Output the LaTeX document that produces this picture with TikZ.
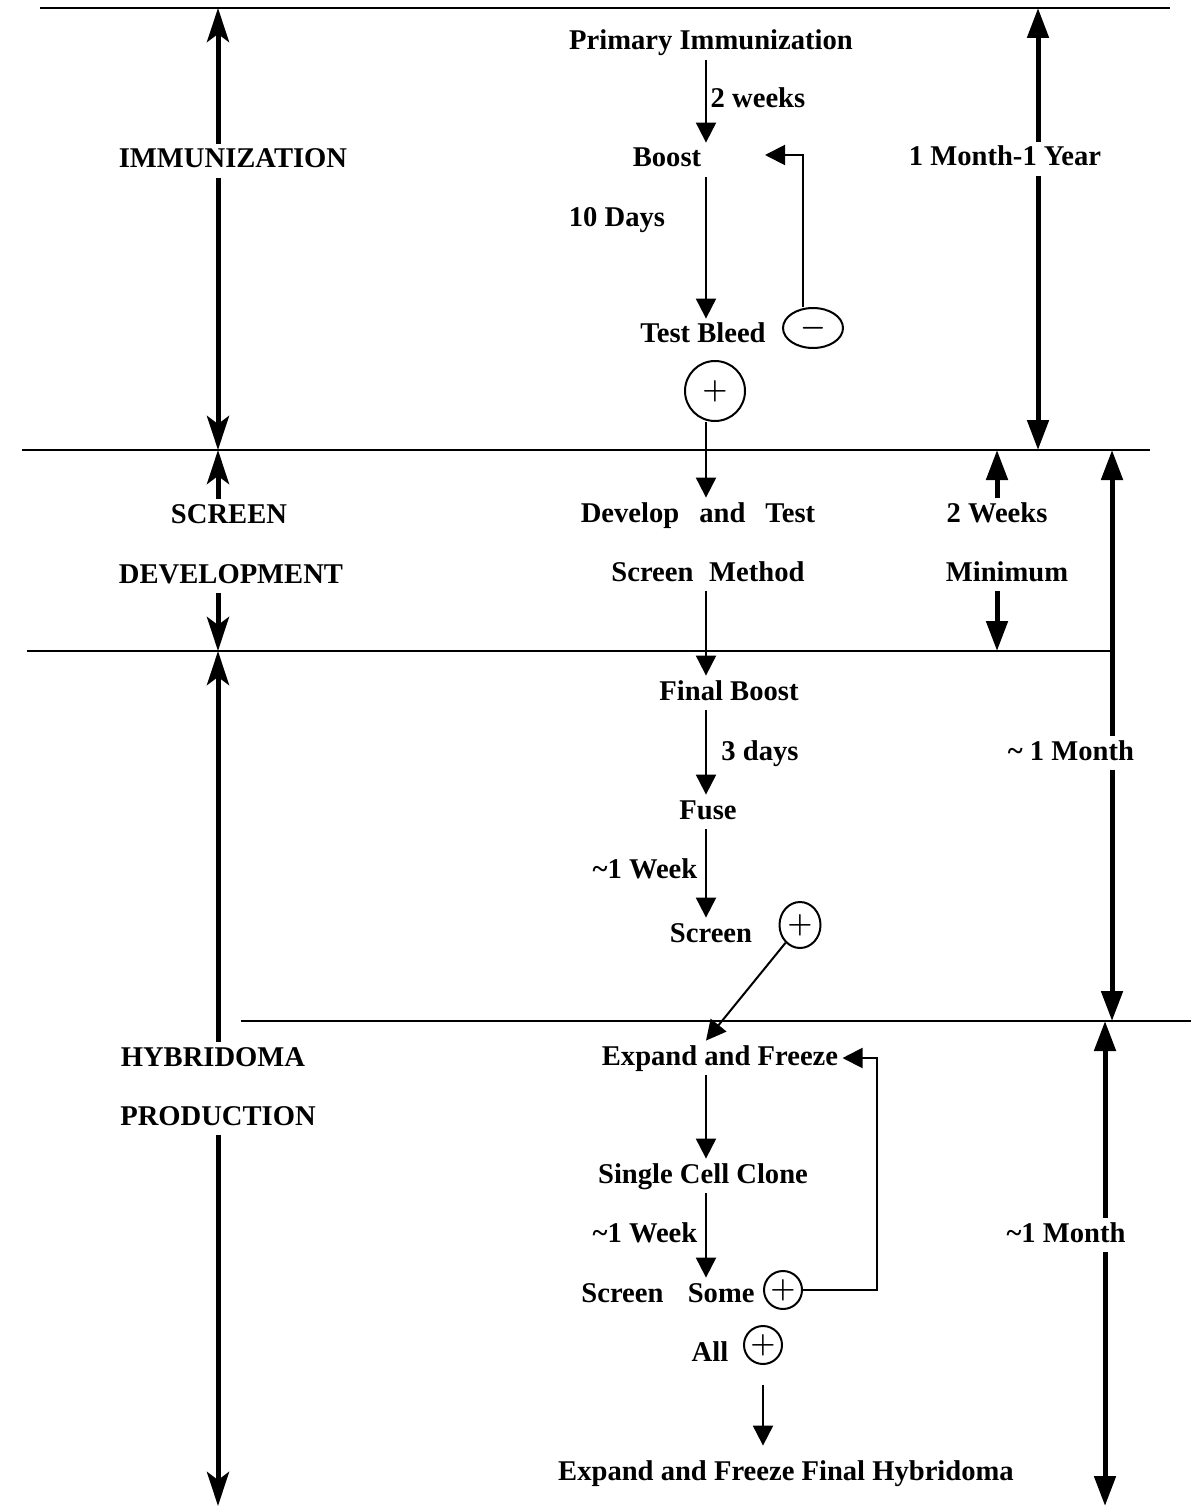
\documentclass[tikz,border=0pt]{standalone}
\usepackage{fontspec}
\setmainfont{Liberation Serif}
\usetikzlibrary{arrows.meta,shapes.geometric}

\begin{document}
\begin{tikzpicture}[x=0.5pt,y=-0.5pt,
  lbl/.style={font=\fontsize{14.3}{17}\selectfont\bfseries, text height=10pt, text depth=3pt, inner sep=2pt, yshift=-1.5pt},
  sign/.style={draw, line width=1pt, inner sep=0pt, font=\fontsize{15}{17}\selectfont\boldmath},
  flow/.style={-{Triangle[length=10pt,width=10pt]}, line width=1pt},
  divider/.style={line width=1.2pt},
  lbar/.style={-{Stealth[length=17pt,width=11pt,inset=4pt]}, line width=2.5pt},
  rbar/.style={-{Triangle[length=15pt,width=10.5pt]}, line width=2.5pt}]
  \useasboundingbox (0,0) rectangle (1191,1508);
  % dividers between the three stages
  \coordinate (d1w) at (40,8);    \coordinate (d1e) at (1170,8);
  \coordinate (d2w) at (22,450);  \coordinate (d2e) at (1150,450);
  \coordinate (d3w) at (27,651);  \coordinate (d3e) at (1112,651);
  \coordinate (d4w) at (241,1021);\coordinate (d4e) at (1191,1021);
  \draw[divider] (d1w) -- (d1e);
  \draw[divider] (d2w) -- (d2e);
  \draw[divider] (d3w) -- (d3e);
  \draw[divider] (d4w) -- (d4e);
  % ends of the time bars
  \coordinate (l1) at (218,8);    \coordinate (l2) at (218,450);
  \coordinate (l3) at (218,651);  \coordinate (l4) at (218,1506);
  \coordinate (ra1) at (1038,8);  \coordinate (ra2) at (1038,450);
  \coordinate (rb1) at (997,450); \coordinate (rb2) at (997,651);
  \coordinate (rc1) at (1112,450);\coordinate (rc2) at (1112,1021);
  \coordinate (rd1) at (1105,1021);\coordinate (rd2) at (1105,1506);
  % stage names
  \node[lbl] (imm)  at (233,158)  {IMMUNIZATION};
  \node[lbl] (scr1) at (229,513)  {SCREEN};
  \node[lbl] (scr2) at (231,573)  {DEVELOPMENT};
  \node[lbl] (hyb)  at (213,1056) {HYBRIDOMA};
  \node[lbl] (prod) at (218,1115) {PRODUCTION};
  % durations
  \node[lbl] (yr)   at (1005,156) {1 Month-1 Year};
  \node[lbl] (wks)  at (997,512)  {2 Weeks};
  \node[lbl] (mini) at (1007,571) {Minimum};
  \node[lbl] (mon1) at (1071,750) {\textasciitilde{} 1 Month};
  \node[lbl] (mon2) at (1066,1232){\textasciitilde1 Month};
  % steps
  \node[lbl] (prim)   at (711,40)   {Primary Immunization};
  \node[lbl] (wk2)    at (758,98)   {2 weeks};
  \node[lbl] (boost)  at (667,157)  {Boost};
  \node[lbl] (d10)    at (617,217)  {10 Days};
  \node[lbl] (bleed)  at (703,333)  {Test Bleed};
  \node[sign, ellipse, minimum width=30pt, minimum height=20pt] (minus) at (813,328) {$-$};
  \node[sign, circle, minimum size=30pt] (tplus) at (715,391) {$+$};
  \node[lbl] (dev)    at (698,512)  {Develop\hspace{0.45em} and\hspace{0.45em} Test};
  \node[lbl] (meth)   at (708,571)  {Screen\hspace{0.3em} Method};
  \node[lbl] (fboost) at (729,690)  {Final Boost};
  \node[lbl] (d3)     at (760,750)  {3 days};
  \node[lbl] (fuse)   at (708,809)  {Fuse};
  \node[lbl] (wk1a)   at (645,868)  {\textasciitilde1 Week};
  \node[lbl] (scr)    at (711,932)  {Screen};
  \node[sign, ellipse, minimum width=20.5pt, minimum height=23pt] (splus) at (800,925) {$+$};
  \node[lbl] (expand) at (720,1055) {Expand and Freeze};
  \node[lbl] (single) at (703,1173) {Single Cell Clone};
  \node[lbl] (wk1b)   at (645,1232) {\textasciitilde1 Week};
  \node[lbl] (some)   at (668,1292) {Screen\hspace{0.6em} Some};
  \node[sign, circle, minimum size=19pt] (ssplus) at (783,1290) {$+$};
  \node[lbl] (all)    at (710,1351) {All};
  \node[sign, circle, minimum size=19pt] (aplus) at (763,1345) {$+$};
  \node[lbl] (final)  at (786,1470) {Expand and Freeze Final Hybridoma};
  % time bars
  \draw[lbar] (l1 |- imm.north) -- (l1);
  \draw[lbar] (l1 |- imm.south) -- (l2);
  \draw[lbar] (l2 |- scr1.north) -- (l2);
  \draw[lbar] (l2 |- scr2.south) -- (l3);
  \draw[lbar] (l3 |- hyb.north) -- (l3);
  \draw[lbar] (l3 |- prod.south) -- (l4);
  \draw[rbar] (ra1 |- yr.north) -- (ra1);
  \draw[rbar] (ra1 |- yr.south) -- (ra2);
  \draw[rbar] (rb1 |- wks.north) -- (rb1);
  \draw[rbar] (rb1 |- mini.south) -- (rb2);
  \draw[rbar] (rc1 |- mon1.north) -- (rc1);
  \draw[rbar] (rc1 |- mon1.south) -- (rc2);
  \draw[rbar] (rd1 |- mon2.north) -- (rd1);
  \draw[rbar] (rd1 |- mon2.south) -- (rd2);
  % flow of the steps
  \coordinate (colx) at (706,0);
  \coordinate (boostin) at (765,155);
  \coordinate (loopx) at (877,0);
  \draw[flow] (prim.south -| colx) -- (boost.north -| colx);
  \draw[flow] (boost.south -| colx) -- (bleed.north -| colx);
  \draw[flow] ([xshift=-5pt]minus.north) |- (boostin);
  \draw[flow] (tplus.south -| colx) -- (dev.north -| colx);
  \draw[flow] (meth.south -| colx) -- (fboost.north -| colx);
  \draw[flow] (fboost.south -| colx) -- (fuse.north -| colx);
  \draw[flow] (fuse.south -| colx) -- (scr.north -| colx);
  \draw[flow] (splus) -- (expand.north -| colx);
  \draw[flow] (expand.south -| colx) -- (single.north -| colx);
  \draw[flow] (single.south -| colx) -- (some.north -| colx);
  \draw[flow] (ssplus.east) -| (loopx |- expand.east) -- (expand.east);
  \draw[flow, shorten <=10pt, shorten >=5pt] (aplus.south) -- (final.north -| aplus.south);
\end{tikzpicture}
\end{document}
